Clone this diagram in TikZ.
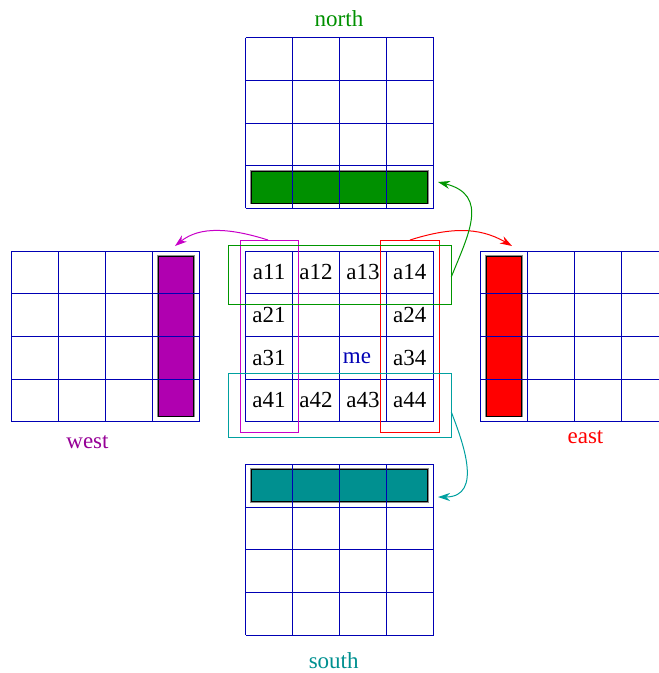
\documentclass[tikz,border=0pt]{standalone}
\usepackage{fontspec}
\setmainfont{Liberation Serif}
\usetikzlibrary{arrows.meta}

\definecolor{gridblue}{RGB}{0,0,180}
\definecolor{darkgreen}{RGB}{0,144,0}
\definecolor{teal4}{RGB}{0,144,144}
\definecolor{purple4}{RGB}{176,0,176}
\definecolor{hlmag}{RGB}{200,0,200}
\definecolor{hlgreen}{RGB}{0,150,0}
\definecolor{hlteal}{RGB}{0,160,160}

\tikzset{
  gridline/.style={draw=gridblue, line width=1pt},
  bar/.style={draw=black, line width=0.9pt},
  barshade/.style={draw=black!45, line width=2.6pt},
  hlbox/.style={line width=1pt},
  cell/.style={inner sep=0pt, font=\fontsize{23}{26}\selectfont},
  caption/.style={inner sep=0pt, anchor=base, font=\fontsize{23}{26}\selectfont},
  link/.style={line width=1pt, -{Stealth[length=12pt,width=8pt]}},
}

% 4x4 grid of cells: left, top, cell width, cell height
\newcommand\cellgrid[4]{%
  \foreach \i in {0,...,4} {
    \draw[gridline] ({#1+\i*#3},#2) -- ({#1+\i*#3},{#2+4*#4});
    \draw[gridline] (#1,{#2+\i*#4}) -- ({#1+4*#3},{#2+\i*#4});
  }%
}
% filled bar with a soft grey rim: left, top, right, bottom, colour
\newcommand\shadedbar[5]{%
  \draw[barshade] (#1,#2) rectangle (#3,#4);
  \filldraw[bar, fill=#5] (#1,#2) rectangle (#3,#4);
}

\begin{document}
\begin{tikzpicture}[x=1pt,y=-1pt]
  \useasboundingbox (0,0) rectangle (659,673);
  \clip (0,0) rectangle (659,673);

  % coloured bars of the neighbour blocks
  \shadedbar{251.7}{171.3}{427.7}{203}{darkgreen}
  \shadedbar{251.7}{469.7}{427.7}{501.3}{teal4}
  \shadedbar{158}{256.3}{193.3}{416}{purple4}
  \shadedbar{486.3}{256.3}{521.7}{416}{red}

  % the five 4x4 blocks
  \cellgrid{245.7}{37.7}{47}{42.65}
  \cellgrid{245.7}{251}{46.9}{42.7}
  \cellgrid{245.7}{464.3}{47}{42.7}
  \cellgrid{11}{251}{47}{42.7}
  \cellgrid{480.3}{251}{47}{42.7}

  % entries of the local block
  \node[cell] (a11) at (269.1,272.3) {a11};
  \node[cell] (a12) at (316.0,272.3) {a12};
  \node[cell] (a13) at (362.9,272.3) {a13};
  \node[cell] (a14) at (409.8,272.3) {a14};
  \node[cell] (a21) at (269.1,315.0) {a21};
  \node[cell] (a24) at (409.8,315.0) {a24};
  \node[cell] (a31) at (269.1,357.7) {a31};
  \node[cell, text=gridblue] (me) at (357,357.7) {me};
  \node[cell] (a34) at (409.8,357.7) {a34};
  \node[cell] (a41) at (269.1,400.4) {a41};
  \node[cell] (a42) at (316.0,400.4) {a42};
  \node[cell] (a43) at (362.9,400.4) {a43};
  \node[cell] (a44) at (409.8,400.4) {a44};

  % highlighted boundary rows and columns
  \draw[hlbox, draw=hlmag] (240,240) rectangle (298.3,432.3);
  \draw[hlbox, draw=red] (380.7,240) rectangle (439.3,432.3);
  \draw[hlbox, draw=hlgreen] (228,245.7) rectangle (451.3,304);
  \draw[hlbox, draw=hlteal] (228,373.3) rectangle (451.3,437.3);

  % block captions
  \node[caption, text=darkgreen] (north) at (339,26.7) {north};
  \node[caption, text=teal4] (south) at (333.7,668.5) {south};
  \node[caption, text=purple4!85!black] (west) at (87.5,448) {west};
  \node[caption, text=red] (east) at (585.5,443.3) {east};

  % ends of the transfer arrows
  \coordinate (colW) at (268,240);
  \coordinate (toW) at (175,246);
  \coordinate (colE) at (410,240);
  \coordinate (toE) at (512,246);
  \coordinate (rowN) at (451.3,277);
  \coordinate (toN) at (438,182);
  \coordinate (rowS) at (451.3,412);
  \coordinate (toS) at (438,497);

  \draw[link, hlmag] (colW) .. controls (230,228) and (200,226) .. (toW);
  \draw[link, red] (colE) .. controls (448,228) and (478,226) .. (toE);
  \draw[link, hlgreen] (rowN) .. controls (468,235) and (490,195) .. (toN);
  \draw[link, hlteal] (rowS) .. controls (462,440) and (484,497) .. (toS);
\end{tikzpicture}
\end{document}
